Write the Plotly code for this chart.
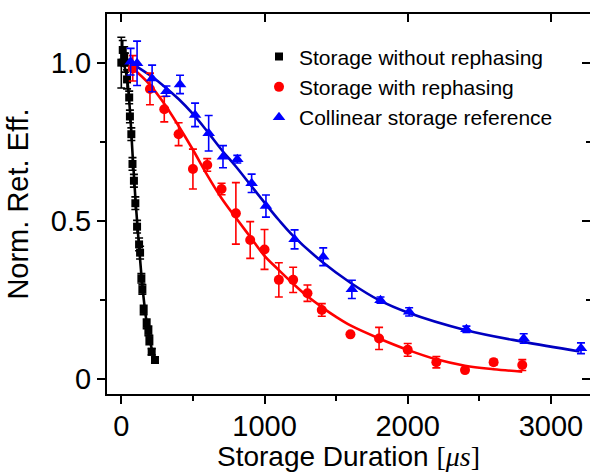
import plotly.graph_objects as go

# ---------------- data ----------------
# Storage without rephasing (black squares)
t_norephase = [0, 10, 20, 25, 40, 55, 60, 70, 78, 88, 98, 110, 124, 131, 140, 147, 156, 177, 189, 196, 212, 235]
eff_norephase = [1.00, 1.04, 1.02, 1.00, 0.947, 0.89, 0.83, 0.774, 0.68, 0.627, 0.556, 0.482, 0.426, 0.40,
                 0.319, 0.284, 0.219, 0.175, 0.153, 0.124, 0.087, 0.061]
err_norephase = [0.08, 0.03, 0.03, 0.03, 0.03, 0.02, 0.02, 0.02, 0.02, 0.02, 0.02, 0.02, 0.02, 0.02,
                 0.015, 0.015, 0.015, 0.015, 0.015, 0.015, 0.01, 0.01]

# Storage with rephasing (red circles)
t_rephase = [80, 200, 300, 400, 500, 600, 700, 800, 900, 1000, 1100, 1200, 1300, 1400, 1600, 1800, 2000,
             2200, 2400, 2600, 2800]
eff_rephase = [0.982, 0.917, 0.853, 0.774, 0.664, 0.677, 0.601, 0.524, 0.44, 0.41, 0.314, 0.314, 0.272,
               0.219, 0.142, 0.129, 0.093, 0.054, 0.029, 0.054, 0.045]
err_rephase = [0.04, 0.05, 0.04, 0.036, 0.063, 0.02, 0.018, 0.097, 0.058, 0.063, 0.054, 0.04, 0.026,
               0.02, 0.0, 0.035, 0.02, 0.018, 0.0, 0.009, 0.017]

# Collinear storage reference (blue triangles)
t_collinear = [65, 110, 215, 315, 410, 515, 610, 710, 810, 910, 1010, 1210, 1410, 1610, 1810, 2010, 2410,
               2810, 3210]
eff_collinear = [1.003, 0.998, 0.95, 0.91, 0.931, 0.835, 0.777, 0.703, 0.695, 0.619, 0.547, 0.442, 0.387,
                 0.284, 0.25, 0.213, 0.158, 0.129, 0.098]
err_collinear = [0.042, 0.07, 0.042, 0.016, 0.029, 0.037, 0.056, 0.035, 0.012, 0.029, 0.035, 0.03, 0.028,
                 0.029, 0.01, 0.013, 0.01, 0.015, 0.017]

# Fit curves
fit_t_norephase = [0, 20, 40, 60, 80, 100, 120, 140, 160, 180, 200, 220, 240]
fit_eff_norephase = [1.005, 0.99, 0.95, 0.85, 0.70, 0.56, 0.44, 0.33, 0.24, 0.17, 0.12, 0.085, 0.06]

fit_t_rephase = [60, 200, 300, 400, 500, 600, 700, 800, 900, 1000, 1100, 1200, 1300, 1400, 1500, 1600,
                 1800, 2000, 2200, 2400, 2600, 2800]
fit_eff_rephase = [0.99, 0.93, 0.87, 0.80, 0.725, 0.645, 0.572, 0.51, 0.45, 0.39, 0.345, 0.302, 0.262,
                   0.228, 0.197, 0.170, 0.129, 0.093, 0.063, 0.043, 0.032, 0.024]

fit_t_collinear = [45, 100, 200, 300, 400, 500, 600, 700, 800, 900, 1000, 1100, 1200, 1400, 1600, 1800,
                   2000, 2400, 2800, 3200]
fit_eff_collinear = [1.005, 0.99, 0.96, 0.925, 0.885, 0.838, 0.783, 0.725, 0.672, 0.615, 0.558, 0.503,
                     0.453, 0.372, 0.305, 0.25, 0.211, 0.156, 0.119, 0.088]

names = ["Storage without rephasing", "Storage with rephasing", "Collinear storage reference"]
x_ticks = [0, 1000, 2000, 3000]
y_ticks = [0, 0.5, 1.0]
y_ticktext = ["0", "0.5", "1.0"]

# ---------------- figure ----------------
FONT = "Liberation Sans, Arial, sans-serif"
BLACK, RED, BLUE, BLUE_LINE = "#000000", "#ff0000", "#0000ff", "#0000c0"

fig = go.Figure()

for xs, ys, col in [(fit_t_norephase, fit_eff_norephase, BLACK),
                    (fit_t_rephase, fit_eff_rephase, RED),
                    (fit_t_collinear, fit_eff_collinear, BLUE_LINE)]:
    fig.add_trace(go.Scatter(x=xs, y=ys, mode="lines", line=dict(color=col, width=2.6, shape="spline"),
                             showlegend=False, hoverinfo="skip"))

series = [(t_norephase, eff_norephase, err_norephase, BLACK, "square", 8),
          (t_rephase, eff_rephase, err_rephase, RED, "circle", 10),
          (t_collinear, eff_collinear, err_collinear, BLUE, "triangle-up", 11)]
for (xs, ys, es, col, sym, sz), nm in zip(series, names):
    fig.add_trace(go.Scatter(
        x=xs, y=ys, mode="markers", name=nm,
        marker=dict(color=col, symbol=sym, size=sz, line=dict(width=0)),
        error_y=dict(type="data", array=es, visible=True, color=col, thickness=1.6, width=4),
    ))

xr = [-100, 3273]
yr = [-0.0464, 1.1536]

fig.update_layout(
    width=590, height=472,
    margin=dict(l=107, r=0, t=14, b=78),
    paper_bgcolor="white", plot_bgcolor="white",
    font=dict(family=FONT, color="black", size=29),
    showlegend=True,
    legend=dict(x=0.3147, y=0.941, xanchor="left", yanchor="top",
                font=dict(family=FONT, size=21, color="black"),
                bgcolor="rgba(0,0,0,0)", borderwidth=0, tracegroupgap=0),
    xaxis=dict(range=xr, tickvals=x_ticks, ticks="outside", ticklen=8, tickwidth=2, tickcolor="black",
               showline=True, linewidth=2, linecolor="black", showgrid=False, zeroline=False,
               tickfont=dict(size=29), ticklabelstandoff=-3,
               minor=dict(dtick=500, tick0=0, ticks="outside", ticklen=5, tickwidth=2, tickcolor="black"),
               title=dict(text='Storage Duration <span style="font-family:Liberation Serif, Times New Roman, serif">[<i>μs</i>]</span>',
                          font=dict(size=28), standoff=9)),
    yaxis=dict(range=yr, tickvals=y_ticks, ticktext=y_ticktext, ticks="outside", ticklen=8, tickwidth=2,
               tickcolor="black", showline=True, linewidth=2, linecolor="black", showgrid=False,
               zeroline=False, tickfont=dict(size=29),
               minor=dict(dtick=0.25, tick0=0, ticks="outside", ticklen=5, tickwidth=2, tickcolor="black"),
               title=dict(text="Norm. Ret. Eff.", font=dict(size=29), standoff=14)),
    xaxis2=dict(range=xr, overlaying="x", side="top", tickvals=x_ticks, ticks="inside", ticklen=8,
                tickwidth=2, tickcolor="black", showline=True, linewidth=2, linecolor="black",
                showticklabels=False, showgrid=False, zeroline=False),
    yaxis2=dict(range=yr, overlaying="y", side="right", tickvals=y_ticks, ticks="inside", ticklen=8,
                tickwidth=2, tickcolor="black", showline=False, showticklabels=False, showgrid=False,
                zeroline=False,
                minor=dict(dtick=0.25, tick0=0, ticks="inside", ticklen=4, tickwidth=2, tickcolor="black")),
)
# invisible anchor trace so the mirror axes are drawn
fig.add_trace(go.Scatter(x=[None], y=[None], xaxis="x2", yaxis="y2", showlegend=False, hoverinfo="skip"))

fig.write_html("out.html")
